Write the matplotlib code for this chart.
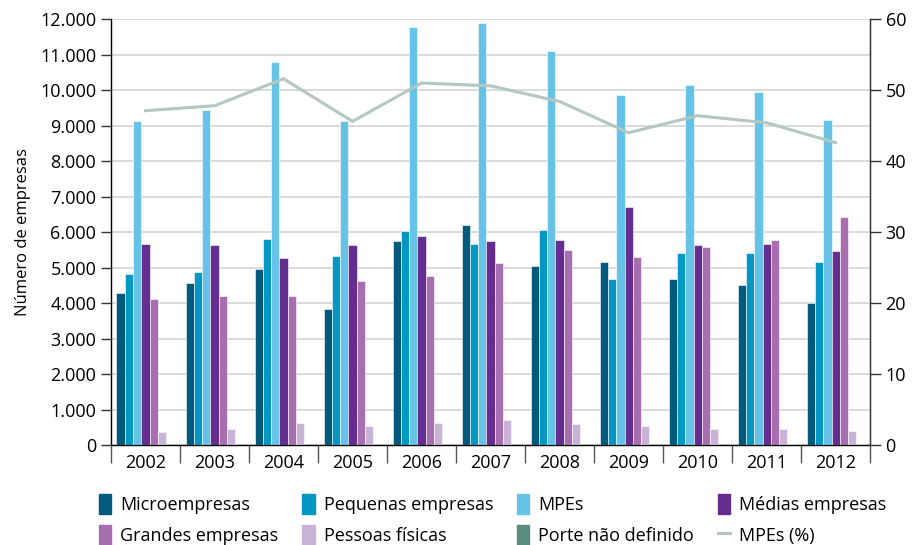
import numpy as np
import matplotlib.pyplot as plt
from matplotlib.patches import Patch
from matplotlib.lines import Line2D

plt.rcParams['font.family'] = ['Open Sans', 'DejaVu Sans']

years = ['2002', '2003', '2004', '2005', '2006', '2007', '2008', '2009', '2010', '2011', '2012']

micro = [4300, 4560, 4960, 3830, 5750, 6210, 5050, 5150, 4690, 4520, 4000]
pequenas = [4830, 4890, 5810, 5320, 6020, 5680, 6050, 4690, 5420, 5420, 5150]
mpes = [9120, 9450, 10780, 9120, 11770, 11900, 11100, 9850, 10140, 9950, 9160]
medias = [5680, 5650, 5260, 5630, 5880, 5750, 5790, 6710, 5650, 5680, 5460]
grandes = [4130, 4200, 4200, 4620, 4760, 5120, 5490, 5290, 5590, 5790, 6420]
pessoas = [360, 470, 630, 530, 630, 700, 590, 530, 460, 460, 390]
porte = [0, 0, 0, 0, 0, 0, 0, 0, 10, 40, 40]
mpes_pct = [47.1, 47.8, 51.6, 45.6, 51.0, 50.6, 48.4, 44.0, 46.4, 45.4, 42.6]

series = [
    ('Microempresas', micro, '#035a7c'),
    ('Pequenas empresas', pequenas, '#0597c4'),
    ('MPEs', mpes, '#67c2e7'),
    ('Médias empresas', medias, '#662d91'),
    ('Grandes empresas', grandes, '#a76fb0'),
    ('Pessoas físicas', pessoas, '#c8b3d7'),
    ('Porte não definido', porte, '#5a8b80'),
]
line_color = '#b4c7c3'
fs = 13

fig = plt.figure(figsize=(9.17, 5.45), dpi=100)
ax = fig.add_axes([0.121, 0.183, 0.828, 0.782])

x = np.arange(len(years))
w = 0.12
for i, (name, vals, col) in enumerate(series):
    ax.bar(x + (i - 3) * w, vals, w, color=col, edgecolor='white', linewidth=0.4, zorder=3)

ax.set_xlim(-0.5, len(years) - 0.5)
ax.set_ylim(0, 12000)
ax.set_yticks(np.arange(0, 12001, 1000))
ax.set_yticklabels(['{:,}'.format(v).replace(',', '.') for v in range(0, 12001, 1000)])
ax.grid(axis='y', color='#d4d4d4', linewidth=1.2, zorder=0)
ax.set_ylabel('Número de empresas', fontsize=12, labelpad=7)

ax.set_xticks(x)
ax.set_xticklabels(years)
ax.set_xticks(np.arange(-0.5, len(years), 1), minor=True)
ax.tick_params(axis='x', which='major', length=0, pad=6, labelsize=fs)
ax.tick_params(axis='x', which='minor', length=13, width=1, color='#555555')
ax.tick_params(axis='y', length=7, width=1, color='#333333', labelsize=fs)

ax.spines['top'].set_visible(False)
for s in ['left', 'bottom', 'right']:
    ax.spines[s].set_color('#333333')
    ax.spines[s].set_linewidth(1)

ax2 = ax.twinx()
ax2.plot(x, mpes_pct, color=line_color, linewidth=2.2, zorder=4)
ax2.set_ylim(0, 60)
ax2.set_yticks(np.arange(0, 61, 10))
ax2.tick_params(axis='y', length=8, width=1, color='#333333', labelsize=fs, pad=3)
ax2.spines['top'].set_visible(False)
ax2.spines['right'].set_color('#333333')

handles = [Patch(color=c) for _, _, c in series]
handles.append(Line2D([0], [0], color=line_color, linewidth=2.2))
labels = [n for n, _, _ in series] + ['MPEs (%)']
order = [0, 4, 1, 5, 2, 6, 3, 7]
fig.legend([handles[i] for i in order], [labels[i] for i in order], ncol=4,
           loc='lower left', bbox_to_anchor=(0.09, -0.03), frameon=False,
           fontsize=fs, handlelength=0.7, handleheight=1.3, handletextpad=0.5,
           columnspacing=1.3, labelspacing=0.6)

fig.savefig('out.png', dpi=100)
